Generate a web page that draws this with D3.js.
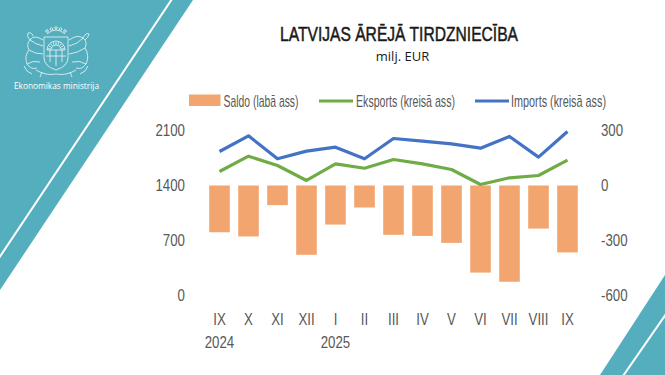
<!DOCTYPE html>
<html>
<head>
<meta charset="utf-8">
<script src="https://cdn.jsdelivr.net/npm/d3@7"></script>
<style>
  body { margin: 0; background: #fff; }
  svg { display: block; }
</style>
</head>
<body>
<div id="chart"></div>
<script>
// data (milj. EUR)
const months = ["IX", "X", "XI", "XII", "I", "II", "III", "IV", "V", "VI", "VII", "VIII", "IX"];
const yearLabels = ["2024", "", "", "", "2025", "", "", "", "", "", "", "", ""];
const imports = [1833, 2032, 1740, 1837, 1888, 1740, 1998, 1964, 1930, 1875, 2024, 1761, 2087];
const exportsData = [1578, 1773, 1655, 1464, 1676, 1620, 1731, 1676, 1604, 1413, 1498, 1527, 1722];
const saldo = [-255, -278, -107, -378, -213, -120, -269, -275, -313, -475, -525, -235, -365];
const leftTicks = [0, 700, 1400, 2100];
const rightTicks = [-600, -300, 0, 300];

const W = 665, H = 375;
const teal = "#55aebe";
const grey = "#595959";
const font = "'Liberation Sans Narrow', 'Liberation Sans', sans-serif";

const svg = d3.select("#chart").append("svg")
    .attr("width", W)
    .attr("height", H);

// background shapes
svg.append("path").attr("d", "M0,0 L193,0 L0,290 Z").attr("fill", teal);
svg.append("line").attr("x1", 172).attr("y1", -1).attr("x2", -1).attr("y2", 258)
    .attr("stroke", "#fff").attr("stroke-width", 2);
svg.append("path").attr("d", "M600,375 L665,275 L665,375 Z").attr("fill", teal);
svg.append("line").attr("x1", 623).attr("y1", 376).attr("x2", 666).attr("y2", 314)
    .attr("stroke", "#fff").attr("stroke-width", 2);

// emblem, rough outline
const emb = svg.append("g").attr("fill", "none").attr("stroke", "#fff")
    .attr("stroke-width", 0.8).attr("opacity", 0.9);
emb.append("path").attr("d", "M44,37 L68,37 L68,58 Q68,66 56,70 Q44,66 44,58 Z");
emb.append("path").attr("d", "M47,50 A9,9 0 0 1 65,50 Z");
emb.append("path").attr("d", "M51,50 A5,5 0 0 1 61,50");
d3.range(9).forEach(k => {
  const a = Math.PI * (k + 0.5) / 9;
  emb.append("line")
      .attr("x1", 56 - 5.5 * Math.cos(a)).attr("y1", 50 - 5.5 * Math.sin(a))
      .attr("x2", 56 - 8.5 * Math.cos(a)).attr("y2", 50 - 8.5 * Math.sin(a));
});
emb.append("path").attr("d", "M46,56 L66,56 M50,50 L50,62 M56,50 L56,66 M62,50 L62,62");
emb.append("path").attr("d", "M47,34 Q56,26 65,34");
[47, 51.5, 56, 60.5, 65].forEach((x, i) => {
  emb.append("circle").attr("cx", x).attr("cy", i == 2 ? 28 : (i == 1 || i == 3 ? 29 : 31)).attr("r", 1.3);
});
emb.append("path").attr("d", "M43,40 Q34,34 30,40 Q26,44 29,50 Q24,56 27,64 Q31,70 37,68 M30,40 Q35,44 43,46 M29,50 Q35,54 43,54 M27,64 Q33,60 40,62 M30,40 Q26,36 28,33 Q32,32 33,36");
emb.append("path").attr("d", "M69,40 Q78,34 83,38 Q88,42 85,48 Q90,56 86,64 Q82,70 76,68 M83,38 Q78,44 69,46 M85,48 Q78,53 69,54 M86,64 Q80,60 72,62 M83,38 Q86,32 89,34 Q88,38 85,40");
emb.append("path").attr("d", "M36,70 Q46,76 56,74 Q66,76 76,70 M42,72 L40,77 M70,72 L72,77 M24,66 Q26,72 32,74 M88,66 Q86,72 80,74");
svg.append("text")
    .attr("x", 14).attr("y", 88.5)
    .attr("font-family", "'Open Sans', sans-serif")
    .attr("font-size", 9.5)
    .attr("fill", "#fff")
    .attr("textLength", 85).attr("lengthAdjust", "spacingAndGlyphs")
    .text("Ekonomikas ministrija");

// title
svg.append("text")
    .attr("x", 399).attr("y", 40.5)
    .attr("text-anchor", "middle")
    .attr("font-family", font)
    .attr("font-size", 21)
    .attr("fill", "#1a1a1a")
    .attr("stroke", "#1a1a1a")
    .attr("stroke-width", 0.5)
    .attr("textLength", 238).attr("lengthAdjust", "spacingAndGlyphs")
    .text("LATVIJAS ĀRĒJĀ TIRDZNIECĪBA");
svg.append("text")
    .attr("x", 402.5).attr("y", 61)
    .attr("text-anchor", "middle")
    .attr("font-family", "'Open Sans', sans-serif")
    .attr("font-size", 13)
    .attr("fill", "#1a1a1a")
    .text("milj. EUR");

// scales
const x = d3.scaleBand()
    .domain(d3.range(months.length))
    .range([205, 582])
    .paddingInner(0.29)
    .paddingOuter(0.145);

const yL = d3.scaleLinear().domain([0, 2100]).range([295.5, 130.5]);
const yR = d3.scaleLinear().domain([-600, 300]).range([295.5, 130.5]);

// bars (right axis)
svg.append("g").selectAll("rect")
    .data(saldo)
    .join("rect")
    .attr("x", (d, i) => x(i))
    .attr("y", d => yR(Math.max(0, d)))
    .attr("width", x.bandwidth())
    .attr("height", d => Math.abs(yR(d) - yR(0)))
    .attr("fill", "#f2a56f");

// lines (left axis)
const line = d3.line()
    .x((d, i) => x(i) + x.bandwidth() / 2)
    .y(d => yL(d));

svg.append("path").datum(exportsData)
    .attr("d", line)
    .attr("fill", "none")
    .attr("stroke", "#6fac46")
    .attr("stroke-width", 3.2)
    .attr("stroke-linejoin", "round");

svg.append("path").datum(imports)
    .attr("d", line)
    .attr("fill", "none")
    .attr("stroke", "#4472c4")
    .attr("stroke-width", 3.2)
    .attr("stroke-linejoin", "round");

// axes
function styleAxis(g) {
  g.select(".domain").remove();
  g.selectAll("line").remove();
  g.selectAll("text")
      .attr("font-family", font)
      .attr("font-size", 17)
      .attr("fill", grey);
}

svg.append("g")
    .attr("transform", "translate(205,0)")
    .call(d3.axisLeft(yL).tickValues(leftTicks).tickFormat(d3.format("d")).tickSize(0).tickPadding(20))
    .call(styleAxis);

svg.append("g")
    .attr("transform", "translate(582,0)")
    .call(d3.axisRight(yR).tickValues(rightTicks).tickFormat(d => String(d)).tickSize(0).tickPadding(19))
    .call(styleAxis);

svg.append("g")
    .attr("transform", "translate(0,295)")
    .call(d3.axisBottom(x).tickFormat(i => months[i]).tickSize(0).tickPadding(18))
    .call(styleAxis);

svg.append("g")
    .attr("transform", "translate(0,319)")
    .call(d3.axisBottom(x).tickFormat(i => yearLabels[i]).tickSize(0).tickPadding(17))
    .call(styleAxis);

// legend
const legend = svg.append("g").attr("font-family", font).attr("font-size", 17).attr("fill", grey);
legend.append("rect").attr("x", 189).attr("y", 94.5).attr("width", 31.5).attr("height", 11.5).attr("fill", "#f2a56f");
legend.append("text").attr("x", 223.5).attr("y", 107).attr("textLength", 75).attr("lengthAdjust", "spacingAndGlyphs").text("Saldo (labā ass)");
legend.append("line").attr("x1", 319).attr("x2", 353).attr("y1", 101).attr("y2", 101).attr("stroke", "#6fac46").attr("stroke-width", 3.2);
legend.append("text").attr("x", 356).attr("y", 107).attr("textLength", 99).attr("lengthAdjust", "spacingAndGlyphs").text("Eksports (kreisā ass)");
legend.append("line").attr("x1", 475).attr("x2", 509).attr("y1", 101).attr("y2", 101).attr("stroke", "#4472c4").attr("stroke-width", 3.2);
legend.append("text").attr("x", 511).attr("y", 107).attr("textLength", 95).attr("lengthAdjust", "spacingAndGlyphs").text("Imports (kreisā ass)");

// squeeze axis labels to the narrow look of the original
svg.selectAll(".tick text").each(function() {
  const w = this.getComputedTextLength();
  if (w > 0) {
    this.setAttribute("textLength", w * 0.78);
    this.setAttribute("lengthAdjust", "spacingAndGlyphs");
  }
});
</script>
</body>
</html>
